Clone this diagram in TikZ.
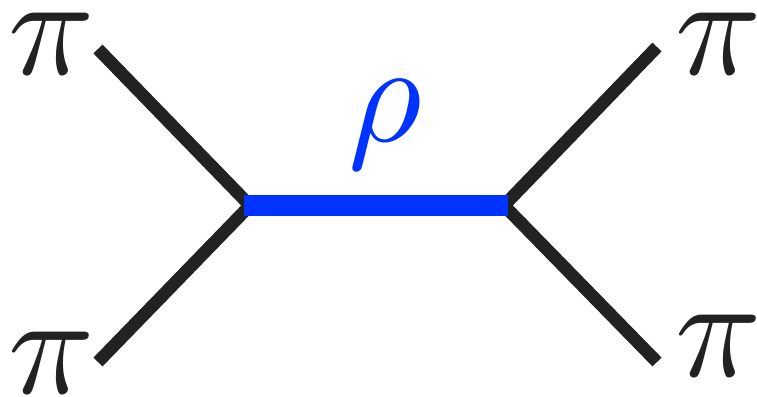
\documentclass[tikz,border=0pt]{standalone}
\usepackage{tikz}
\definecolor{legblack}{HTML}{222222}
\definecolor{rhoblue}{HTML}{0033FF}
\newcommand{\bigsym}[1]{\scalebox{4.05}{$#1$}}

\begin{document}
\begin{tikzpicture}[
		x=0.01cm, y=-0.01cm,
		leg/.style={
			draw=legblack,
			line width=3.6pt
		},
		prop/.style={
			draw=rhoblue,
			line width=6pt
		},
		particle/.style={
			inner sep=0pt,
			font=\fontsize{10}{12}\selectfont,
			text=legblack
		}
		]
		\useasboundingbox (0,0) rectangle (757,397);
		% vertices and free leg ends
		\coordinate (vl) at (250,205.5);
		\coordinate (vr) at (504,205.5);
		\coordinate (tl) at (98,49);
		\coordinate (bl) at (98,362);
		\coordinate (tr) at (657,47);
		\coordinate (br) at (657,362);
		\draw[leg] (tl) -- (vl) -- (bl);
		\draw[leg] (tr) -- (vr) -- (br);
		\draw[prop, shorten <=-1.7pt, shorten >=-1.1pt] (vl) -- (vr);
		% labels
		\node[particle] (pitl) at (52,44) {\bigsym{\pi}};
		\node[particle] (pibl) at (52,363) {\bigsym{\pi}};
		\node[particle] (pitr) at (719,44) {\bigsym{\pi}};
		\node[particle] (pibr) at (719,346) {\bigsym{\pi}};
		\node[particle, text=rhoblue] (rho) at (385,125) {\bigsym{\rho}};
	\end{tikzpicture}
\end{document}
